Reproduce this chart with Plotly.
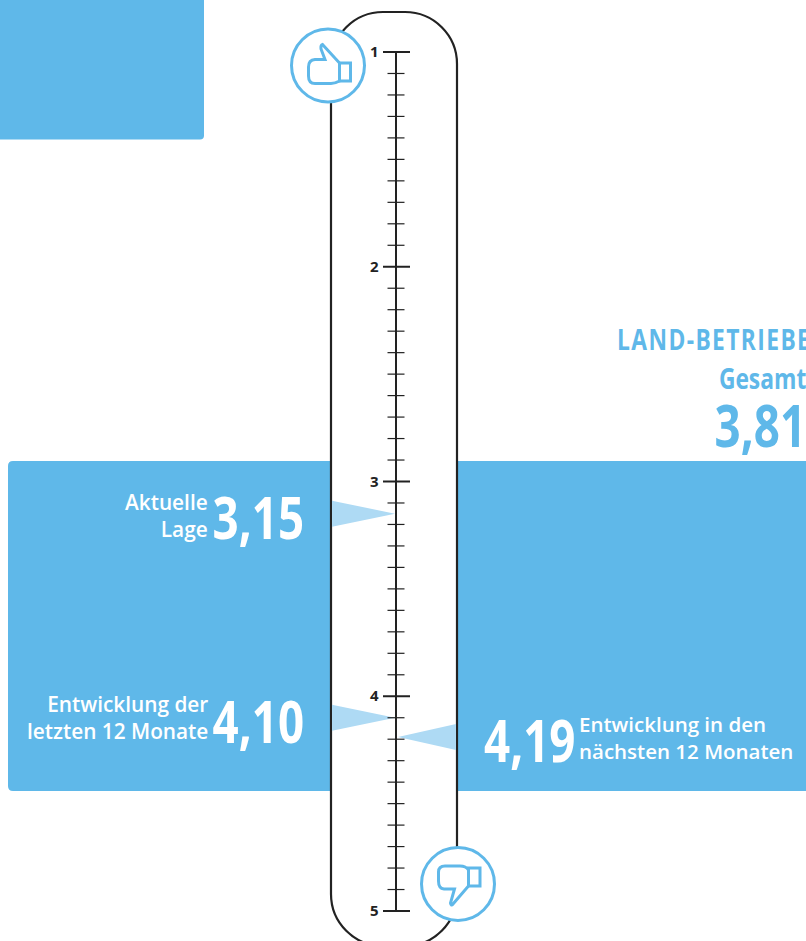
import plotly.graph_objects as go

# Scale of the school-grade thermometer
major_ticks = [1, 2, 3, 4, 5]
minor_ticks = [round(1 + i * 0.1, 1) for i in range(41) if i % 10]

# Survey results
left_values = [3.15, 4.10]
left_labels = ["Aktuelle<br>Lage", "Entwicklung der<br>letzten 12 Monate"]
left_numbers = ["3,15", "4,10"]
right_values = [4.19]
right_labels = ["Entwicklung in den<br>nächsten 12 Monaten"]
right_numbers = ["4,19"]
total_title = "LAND-BETRIEBE"
total_subtitle = "Gesamt"
total_number = "3,81"

W, H = 806, 941
BLUE = "#5FB8E9"
PALE = "#AEDAF4"
INK = "#222222"
BODY = "Open Sans, Noto Sans, sans-serif"

PX_PER_UNIT = 214.75
Y_TOP = 52
AXIS_X = 396
WALL_L, WALL_R = 331, 457
LINE_EW_FACTOR = 1.4  # plotly's line-ew marker spans size * 1.4 pixels


def to_val(py):
    return 1 + (py - Y_TOP) / PX_PER_UNIT


def path_shape(path, fill, line, width=0, **kw):
    return dict(type="path", xref="x", yref="y", path=path, fillcolor=fill,
                line=dict(color=line, width=width), layer="below", **kw)


def pth(points):
    # Builds an SVG path in chart coordinates from (px, py) steps
    out = []
    for step in points:
        if isinstance(step, str):
            out.append(step)
        else:
            out.append(f"{step[0]:.2f},{to_val(step[1]):.5f}")
    return " ".join(out)


def rounded_rect(x0, y0, x1, y1, tl=0, tr=0, br=0, bl=0):
    return pth(["M", (x0 + tl, y0), "L", (x1 - tr, y0), "Q", (x1, y0), (x1, y0 + tr),
                "L", (x1, y1 - br), "Q", (x1, y1), (x1 - br, y1),
                "L", (x0 + bl, y1), "Q", (x0, y1), (x0, y1 - bl),
                "L", (x0, y0 + tl), "Q", (x0, y0), (x0 + tl, y0), "Z"])


def capsule(x0, y0, x1, y1, r):
    k = r * 0.5523
    return pth(["M", (x0 + r, y0), "L", (x1 - r, y0),
                "C", (x1 - r + k, y0), (x1, y0 + r - k), (x1, y0 + r),
                "L", (x1, y1 - r),
                "C", (x1, y1 - r + k), (x1 - r + k, y1), (x1 - r, y1),
                "L", (x0 + r, y1),
                "C", (x0 + r - k, y1), (x0, y1 - r + k), (x0, y1 - r),
                "L", (x0, y0 + r),
                "C", (x0, y0 + r - k), (x0 + r - k, y0), (x0 + r, y0), "Z"])


def circle(cx, cy, r):
    k = r * 0.5523
    return pth(["M", (cx - r, cy),
                "C", (cx - r, cy - k), (cx - k, cy - r), (cx, cy - r),
                "C", (cx + k, cy - r), (cx + r, cy - k), (cx + r, cy),
                "C", (cx + r, cy + k), (cx + k, cy + r), (cx, cy + r),
                "C", (cx - k, cy + r), (cx - r, cy + k), (cx - r, cy), "Z"])


thumb_up = pth(["M", (322.5, 44.5), "L", (339.5, 63), "L", (339.5, 81),
                "Q", (335, 83.5), (331, 83.5), "L", (315, 83.5),
                "Q", (308.5, 83.5), (308.5, 76), "L", (308.5, 67),
                "Q", (308.5, 60), (315, 59.5), "L", (325, 59.5),
                "L", (321, 49), "Q", (320.5, 45), (322.5, 44.5), "Z"])
cuff_up = pth(["M", (339.5, 63), "L", (350.5, 63), "L", (350.5, 81), "L", (339.5, 81), "Z"])
thumb_down = pth(["M", (468.5, 870), "L", (468.5, 886), "L", (453, 904),
                  "Q", (451, 906.5), (450.5, 903), "L", (454.5, 889),
                  "L", (444, 889), "Q", (438.5, 888.5), (438.5, 881), "L", (438.5, 872),
                  "Q", (438.5, 866), (445, 866), "L", (460, 866),
                  "Q", (466, 866), (468.5, 870), "Z"])
cuff_down = pth(["M", (468.5, 868), "L", (480, 868), "L", (480, 886), "L", (468.5, 886), "Z"])

shapes = [
    path_shape(rounded_rect(-5, -5, 204, 139.5, br=4), BLUE, BLUE),
    path_shape(rounded_rect(8, 461, 812, 791, tl=5, tr=5, bl=5, br=5), BLUE, BLUE),
    path_shape(capsule(WALL_L, 12, WALL_R, 946, 52), "white", INK, 2.2),
    path_shape(circle(328, 65.5, 36.5), "white", BLUE, 3),
    path_shape(thumb_up, "white", BLUE, 3),
    path_shape(cuff_up, "white", BLUE, 3),
    path_shape(circle(458, 884, 36.5), "white", BLUE, 3),
    path_shape(thumb_down, "white", BLUE, 3),
    path_shape(cuff_down, "white", BLUE, 3),
]

fig = go.Figure()

# Pointers from the capsule walls to the value on the scale
HALF_BASE = 13 / PX_PER_UNIT
for v in left_values:
    fig.add_trace(go.Scatter(x=[WALL_L + 1, AXIS_X - 1, WALL_L + 1, WALL_L + 1],
                             y=[v - HALF_BASE, v, v + HALF_BASE, v - HALF_BASE],
                             mode="lines", fill="toself", fillcolor=PALE,
                             line=dict(width=0), hoverinfo="skip"))
for v in right_values:
    fig.add_trace(go.Scatter(x=[WALL_R - 1, AXIS_X + 2, WALL_R - 1, WALL_R - 1],
                             y=[v - HALF_BASE, v, v + HALF_BASE, v - HALF_BASE],
                             mode="lines", fill="toself", fillcolor=PALE,
                             line=dict(width=0), hoverinfo="skip"))

# Stem and tick marks
fig.add_trace(go.Scatter(x=[AXIS_X, AXIS_X], y=[major_ticks[0], major_ticks[-1]], mode="lines",
                         line=dict(color=INK, width=2), hoverinfo="skip"))
fig.add_trace(go.Scatter(x=[AXIS_X] * len(minor_ticks), y=minor_ticks, mode="markers",
                         marker=dict(symbol="line-ew", size=17 / LINE_EW_FACTOR,
                                     line=dict(color=INK, width=1.2)),
                         hoverinfo="skip"))
fig.add_trace(go.Scatter(x=[AXIS_X + 0.5] * len(major_ticks), y=major_ticks, mode="markers",
                         marker=dict(symbol="line-ew", size=27 / LINE_EW_FACTOR,
                                     line=dict(color=INK, width=2)),
                         hoverinfo="skip"))


def note(text, x, y, size, color, anchor, weight="normal", yshift=0, xshift=0):
    fig.add_annotation(x=x, y=y, xref="x", yref="y", text=text, showarrow=False,
                       xanchor=anchor, yanchor="middle", align=anchor, yshift=yshift,
                       xshift=xshift, borderpad=0, borderwidth=0,
                       font=dict(family=BODY, size=size, color=color, weight=weight))


for tick in major_ticks:
    note(str(tick), 379, tick, 15, INK, "right", weight="bold", yshift=1)

for v, label, number in zip(left_values, left_labels, left_numbers):
    note(label, 207.5, v, 20.8, "white", "right", weight=600, yshift=-2 if v < 4 else 0)
    note(number, 304, v, 59, "white", "right", weight="bold", yshift=-2)

for v, label, number in zip(right_values, right_labels, right_numbers):
    note(label, 579, v, 20.5, "white", "left", weight=600)
    note(number, 484, v, 59, "white", "left", weight="bold", yshift=-2)

note(total_title, 805, to_val(339), 28, BLUE, "right", weight="bold", xshift=6)
note(total_subtitle, 805, to_val(378), 28, BLUE, "right", weight="bold", xshift=1)
note(total_number, 805, to_val(424), 59, BLUE, "right", weight="bold", xshift=1)

fig.update_layout(
    width=W, height=H, margin=dict(l=0, r=0, t=0, b=0, pad=0),
    paper_bgcolor="white", plot_bgcolor="white", showlegend=False, shapes=shapes,
    xaxis=dict(range=[0, W], visible=False, fixedrange=True),
    yaxis=dict(range=[to_val(H), to_val(0)], visible=False, fixedrange=True),
)

# The display figures are set in a condensed cut: narrow the large annotations in place,
# pinned at whichever edge they are anchored to. The headline is also tracked out.
condense = """
var gd = document.getElementById('{plot_id}');
function condense() {
  gd.querySelectorAll('.annotation-text').forEach(function (t) {
    var size = parseFloat(t.style.fontSize);
    if (size < 25 || t.dataset.narrow) return;
    var box = t.getBBox();
    var txt = t.textContent;
    var pin = txt.indexOf('4,19') === 0 ? box.x : box.x + box.width;
    var squeeze = size > 40 ? 0.775 : 0.815;
    if (txt.indexOf('LAND') === 0) { t.style.letterSpacing = '1.7px'; }
    t.setAttribute('transform', 'translate(' + pin + ',0) scale(' + squeeze + ',1) translate(' + (-pin) + ',0)');
    t.dataset.narrow = '1';
  });
}
condense();
gd.on('plotly_afterplot', condense);
"""
fig.write_html("out.html", config=dict(displayModeBar=False), post_script=condense)
